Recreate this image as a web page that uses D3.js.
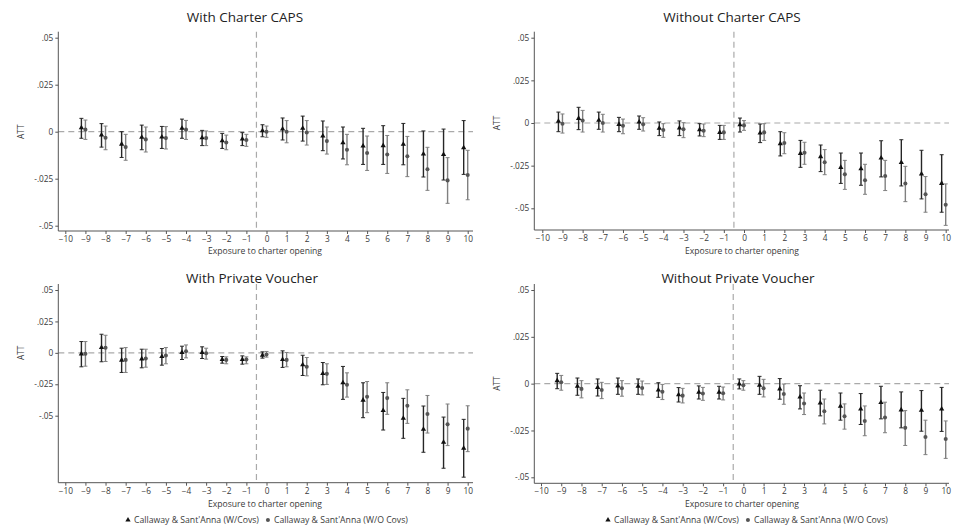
<!DOCTYPE html>
<html><head><meta charset="utf-8">
<script src="https://cdn.jsdelivr.net/npm/d3@7"></script>
<style>body{margin:0;background:#fff}svg{display:block}text{font-family:"Open Sans","Liberation Sans",Arial,sans-serif}</style>
</head><body><svg id="c" width="959" height="529"></svg>
<script>
const periods = [-9,-8,-7,-6,-5,-4,-3,-2,-1,0,1,2,3,4,5,6,7,8,9,10];
const xTicks = d3.range(-10, 11);
const yTicks = [0.05, 0.025, 0, -0.025, -0.05];
const yTickLabels = [".05", ".025", "0", "-.025", "-.05"];
const titles = ["With Charter CAPS", "Without Charter CAPS", "With Private Voucher", "Without Private Voucher"];
const seriesNames = ["Callaway & Sant'Anna (W/Covs)", "Callaway & Sant'Anna (W/O Covs)"];

// Panel 1: With Charter CAPS
const p1CovEst = [0.0021,-0.0018,-0.0066,-0.0030,-0.0028,0.0018,-0.0032,-0.0048,-0.0039,0.0005,0.0014,0.0018,-0.0023,-0.0059,-0.0076,-0.0074,-0.0067,-0.0119,-0.0121,-0.0085];
const p1CovHi  = [0.0071,0.0043,0.0000,0.0035,0.0028,0.0067,0.0007,-0.0009,-0.0005,0.0037,0.0073,0.0083,0.0057,0.0025,0.0018,0.0032,0.0044,0.0004,0.0014,0.0059];
const p1CovLo  = [-0.0035,-0.0082,-0.0137,-0.0096,-0.0089,-0.0035,-0.0074,-0.0089,-0.0074,-0.0027,-0.0044,-0.0050,-0.0101,-0.0145,-0.0174,-0.0174,-0.0176,-0.0241,-0.0257,-0.0227];
const p1NoEst  = [0.0011,-0.0032,-0.0082,-0.0041,-0.0034,0.0011,-0.0034,-0.0057,-0.0044,0.0000,0.0000,-0.0004,-0.0050,-0.0096,-0.0113,-0.0121,-0.0131,-0.0200,-0.0259,-0.0230];
const p1NoHi   = [0.0062,0.0030,-0.0014,0.0025,0.0027,0.0060,0.0004,-0.0018,-0.0014,0.0030,0.0059,0.0059,0.0025,-0.0014,-0.0023,-0.0020,-0.0025,-0.0083,-0.0138,-0.0099];
const p1NoLo   = [-0.0041,-0.0096,-0.0152,-0.0108,-0.0092,-0.0041,-0.0074,-0.0096,-0.0078,-0.0030,-0.0059,-0.0071,-0.0119,-0.0176,-0.0206,-0.0222,-0.0239,-0.0312,-0.0381,-0.0362];

// Panel 2: Without Charter CAPS
const p2CovEst = [0.0010,0.0027,0.0016,-0.0008,0.0006,-0.0031,-0.0029,-0.0039,-0.0055,-0.0010,-0.0059,-0.0121,-0.0178,-0.0197,-0.0260,-0.0268,-0.0205,-0.0232,-0.0299,-0.0354];
const p2CovHi  = [0.0064,0.0092,0.0064,0.0033,0.0041,0.0006,0.0012,-0.0004,-0.0014,0.0029,-0.0006,-0.0051,-0.0102,-0.0129,-0.0176,-0.0176,-0.0104,-0.0098,-0.0160,-0.0186];
const p2CovLo  = [-0.0051,-0.0039,-0.0037,-0.0051,-0.0037,-0.0074,-0.0074,-0.0076,-0.0096,-0.0053,-0.0115,-0.0193,-0.0260,-0.0285,-0.0354,-0.0365,-0.0316,-0.0369,-0.0445,-0.0523];
const p2NoEst  = [-0.0004,0.0014,0.0000,-0.0016,-0.0008,-0.0041,-0.0037,-0.0045,-0.0055,-0.0014,-0.0055,-0.0117,-0.0174,-0.0230,-0.0301,-0.0336,-0.0311,-0.0355,-0.0418,-0.0479];
const p2NoHi   = [0.0053,0.0074,0.0051,0.0023,0.0031,-0.0004,0.0002,-0.0006,-0.0014,0.0014,-0.0004,-0.0057,-0.0113,-0.0156,-0.0219,-0.0242,-0.0219,-0.0254,-0.0314,-0.0357];
const p2NoLo   = [-0.0059,-0.0053,-0.0053,-0.0063,-0.0047,-0.0084,-0.0086,-0.0080,-0.0096,-0.0043,-0.0102,-0.0180,-0.0242,-0.0303,-0.0389,-0.0418,-0.0396,-0.0461,-0.0523,-0.0600];

// Panel 3: With Private Voucher
const p3CovEst = [-0.0008,0.0042,-0.0058,-0.0048,-0.0029,0.0003,0.0003,-0.0053,-0.0053,-0.0019,-0.0053,-0.0095,-0.0164,-0.0238,-0.0376,-0.0458,-0.0521,-0.0608,-0.0712,-0.0759];
const p3CovHi  = [0.0090,0.0148,0.0037,0.0029,0.0034,0.0053,0.0048,-0.0029,-0.0024,0.0008,0.0016,-0.0019,-0.0077,-0.0108,-0.0238,-0.0315,-0.0362,-0.0423,-0.0511,-0.0529];
const p3CovLo  = [-0.0111,-0.0071,-0.0156,-0.0119,-0.0098,-0.0053,-0.0045,-0.0082,-0.0090,-0.0042,-0.0116,-0.0180,-0.0254,-0.0370,-0.0516,-0.0614,-0.0680,-0.0791,-0.0918,-0.0989];
const p3NoEst  = [-0.0008,0.0040,-0.0056,-0.0045,-0.0021,0.0013,-0.0003,-0.0056,-0.0053,-0.0013,-0.0056,-0.0111,-0.0167,-0.0254,-0.0349,-0.0360,-0.0421,-0.0487,-0.0569,-0.0603];
const p3NoHi   = [0.0090,0.0140,0.0042,0.0029,0.0042,0.0063,0.0037,-0.0032,-0.0032,0.0011,0.0003,-0.0037,-0.0087,-0.0159,-0.0228,-0.0238,-0.0294,-0.0339,-0.0407,-0.0421];
const p3NoLo   = [-0.0106,-0.0069,-0.0156,-0.0114,-0.0087,-0.0040,-0.0050,-0.0087,-0.0087,-0.0034,-0.0111,-0.0183,-0.0251,-0.0352,-0.0476,-0.0489,-0.0561,-0.0638,-0.0738,-0.0786];

// Panel 4: Without Private Voucher
const p4CovEst = [0.0016,-0.0014,-0.0020,-0.0012,-0.0014,-0.0034,-0.0059,-0.0046,-0.0046,-0.0002,-0.0009,-0.0028,-0.0071,-0.0103,-0.0121,-0.0135,-0.0101,-0.0140,-0.0142,-0.0135];
const p4CovHi  = [0.0055,0.0030,0.0025,0.0030,0.0025,0.0005,-0.0021,-0.0012,-0.0014,0.0025,0.0039,0.0027,-0.0011,-0.0035,-0.0050,-0.0053,-0.0014,-0.0044,-0.0037,-0.0020];
const p4CovLo  = [-0.0027,-0.0062,-0.0066,-0.0057,-0.0057,-0.0073,-0.0098,-0.0082,-0.0082,-0.0028,-0.0057,-0.0083,-0.0135,-0.0172,-0.0195,-0.0218,-0.0188,-0.0236,-0.0254,-0.0255];
const p4NoEst  = [0.0007,-0.0028,-0.0034,-0.0025,-0.0023,-0.0043,-0.0064,-0.0053,-0.0051,-0.0009,-0.0025,-0.0055,-0.0106,-0.0147,-0.0174,-0.0199,-0.0181,-0.0236,-0.0285,-0.0296];
const p4NoHi   = [0.0044,0.0016,0.0007,0.0016,0.0014,-0.0004,-0.0025,-0.0020,-0.0018,0.0016,0.0023,-0.0002,-0.0050,-0.0082,-0.0108,-0.0119,-0.0099,-0.0144,-0.0195,-0.0199];
const p4NoLo   = [-0.0035,-0.0076,-0.0080,-0.0067,-0.0060,-0.0085,-0.0103,-0.0089,-0.0087,-0.0035,-0.0071,-0.0110,-0.0165,-0.0215,-0.0243,-0.0278,-0.0262,-0.0330,-0.0379,-0.0399];

const panelData = [
  [[p1CovEst,p1CovHi,p1CovLo],[p1NoEst,p1NoHi,p1NoLo]],
  [[p2CovEst,p2CovHi,p2CovLo],[p2NoEst,p2NoHi,p2NoLo]],
  [[p3CovEst,p3CovHi,p3CovLo],[p3NoEst,p3NoHi,p3NoLo]],
  [[p4CovEst,p4CovHi,p4CovLo],[p4NoEst,p4NoHi,p4NoLo]]
];

// layout (pixels)
const layouts = [
  {ax:58.3, x0:65.3, x1:467.7, xe:473, yTopPx:37.7, yBotPx:225.7, top:31.7, bot:231, tx:245, ty:22, lx:265, ly:254},
  {ax:534.3, x0:542.3, x1:945.7, xe:949, yTopPx:37.7, yBotPx:208.3, top:31.7, bot:230, tx:732, ty:22, lx:742, ly:254},
  {ax:58.3, x0:65.3, x1:467.7, xe:473, yTopPx:290, yBotPx:415.7, top:284, bot:482.7, tx:252, ty:283, lx:265, ly:507},
  {ax:534.3, x0:541, x1:945.7, xe:949, yTopPx:290, yBotPx:477.3, top:284, bot:483.3, tx:738, ty:283, lx:742, ly:507}
];

const svg = d3.select("#c");
const axisCol = "#555", textCol = "#3a3a3a";
const colors = [{bar:"#262626", pt:"#111"}, {bar:"#808080", pt:"#555"}];
const offsets = [-0.2, 0];
const triangle = d3.symbol().type(d3.symbolTriangle).size(12);
const circle = d3.symbol().type(d3.symbolCircle).size(13);

layouts.forEach((L, i) => {
  const g = svg.append("g");
  const x = d3.scaleLinear().domain([-10, 10]).range([L.x0, L.x1]);
  const y = d3.scaleLinear().domain([-0.05, 0.05]).range([L.yBotPx, L.yTopPx]);

  g.append("text").attr("x", L.tx).attr("y", L.ty).attr("text-anchor", "middle")
    .attr("font-size", 13.5).attr("font-family", "Inter,'Liberation Sans',sans-serif")
    .attr("fill", "#222").text(titles[i]);

  g.append("line").attr("x1", L.ax).attr("x2", L.xe).attr("y1", y(0)).attr("y2", y(0))
    .attr("stroke", "#aaa").attr("stroke-width", 1.2).attr("stroke-dasharray", "6,4");
  g.append("line").attr("x1", x(-0.5)).attr("x2", x(-0.5)).attr("y1", L.top).attr("y2", L.bot)
    .attr("stroke", "#aaa").attr("stroke-width", 1.2).attr("stroke-dasharray", "6,4");

  const yAxis = d3.axisLeft(y).tickValues(yTicks).tickSize(3).tickPadding(2)
    .tickFormat((d, k) => yTickLabels[k]);
  const ya = g.append("g").attr("transform", `translate(${L.ax},0)`).call(yAxis);
  ya.select(".domain").remove();
  ya.append("line").attr("x1", 0).attr("x2", 0).attr("y1", L.top).attr("y2", L.bot).attr("stroke", axisCol);
  const xAxis = d3.axisBottom(x).tickValues(xTicks).tickSize(3).tickPadding(2).tickFormat(d3.format("d"));
  const xa = g.append("g").attr("transform", `translate(0,${L.bot})`).call(xAxis);
  xa.select(".domain").remove();
  xa.append("line").attr("x1", L.ax).attr("x2", L.xe).attr("y1", 0).attr("y2", 0).attr("stroke", axisCol);
  [ya, xa].forEach(a => {
    a.selectAll(".tick line").attr("stroke", axisCol);
    a.selectAll(".tick text").attr("font-size", 8.3).attr("fill", textCol)
      .attr("font-family", "'Open Sans','Liberation Sans',Arial,sans-serif");
  });

  g.append("text").attr("transform", `translate(${L.ax - 34},${y(0)}) rotate(-90)`)
    .attr("text-anchor", "middle").attr("font-size", 8.3).attr("fill", textCol).text("ATT");
  g.append("text").attr("x", L.lx).attr("y", L.ly).attr("text-anchor", "middle")
    .attr("font-size", 8.6).attr("fill", textCol).text("Exposure to charter opening");

  panelData[i].forEach((s, si) => {
    const [est, hi, lo] = s;
    const c = colors[si];
    const sg = g.append("g");
    periods.forEach((p, k) => {
      const px = x(p + offsets[si]);
      sg.append("line").attr("x1", px).attr("x2", px).attr("y1", y(hi[k])).attr("y2", y(lo[k]))
        .attr("stroke", c.bar).attr("stroke-width", 1.4);
      [hi[k], lo[k]].forEach(v => sg.append("line").attr("x1", px - 2).attr("x2", px + 2)
        .attr("y1", y(v)).attr("y2", y(v)).attr("stroke", c.bar).attr("stroke-width", 1));
      sg.append("path").attr("d", si === 0 ? triangle() : circle())
        .attr("transform", `translate(${px},${y(est[k])})`).attr("fill", c.pt);
    });
  });
});

const legends = [{x:128, y:523}, {x:608, y:523}];
legends.forEach(Lg => {
  const g = svg.append("g").attr("transform", `translate(${Lg.x},${Lg.y})`);
  g.append("path").attr("d", triangle()).attr("transform", "translate(0,-3)").attr("fill", "#111");
  const t1 = g.append("text").attr("x", 6).attr("y", 0).attr("font-size", 8.7).attr("fill", textCol).text(seriesNames[0]);
  const cx = 6 + t1.node().getComputedTextLength() + 9;
  g.append("path").attr("d", circle()).attr("transform", `translate(${cx},-3)`).attr("fill", "#555");
  g.append("text").attr("x", cx + 6).attr("y", 0).attr("font-size", 8.7).attr("fill", textCol).text(seriesNames[1]);
});
</script></body></html>
